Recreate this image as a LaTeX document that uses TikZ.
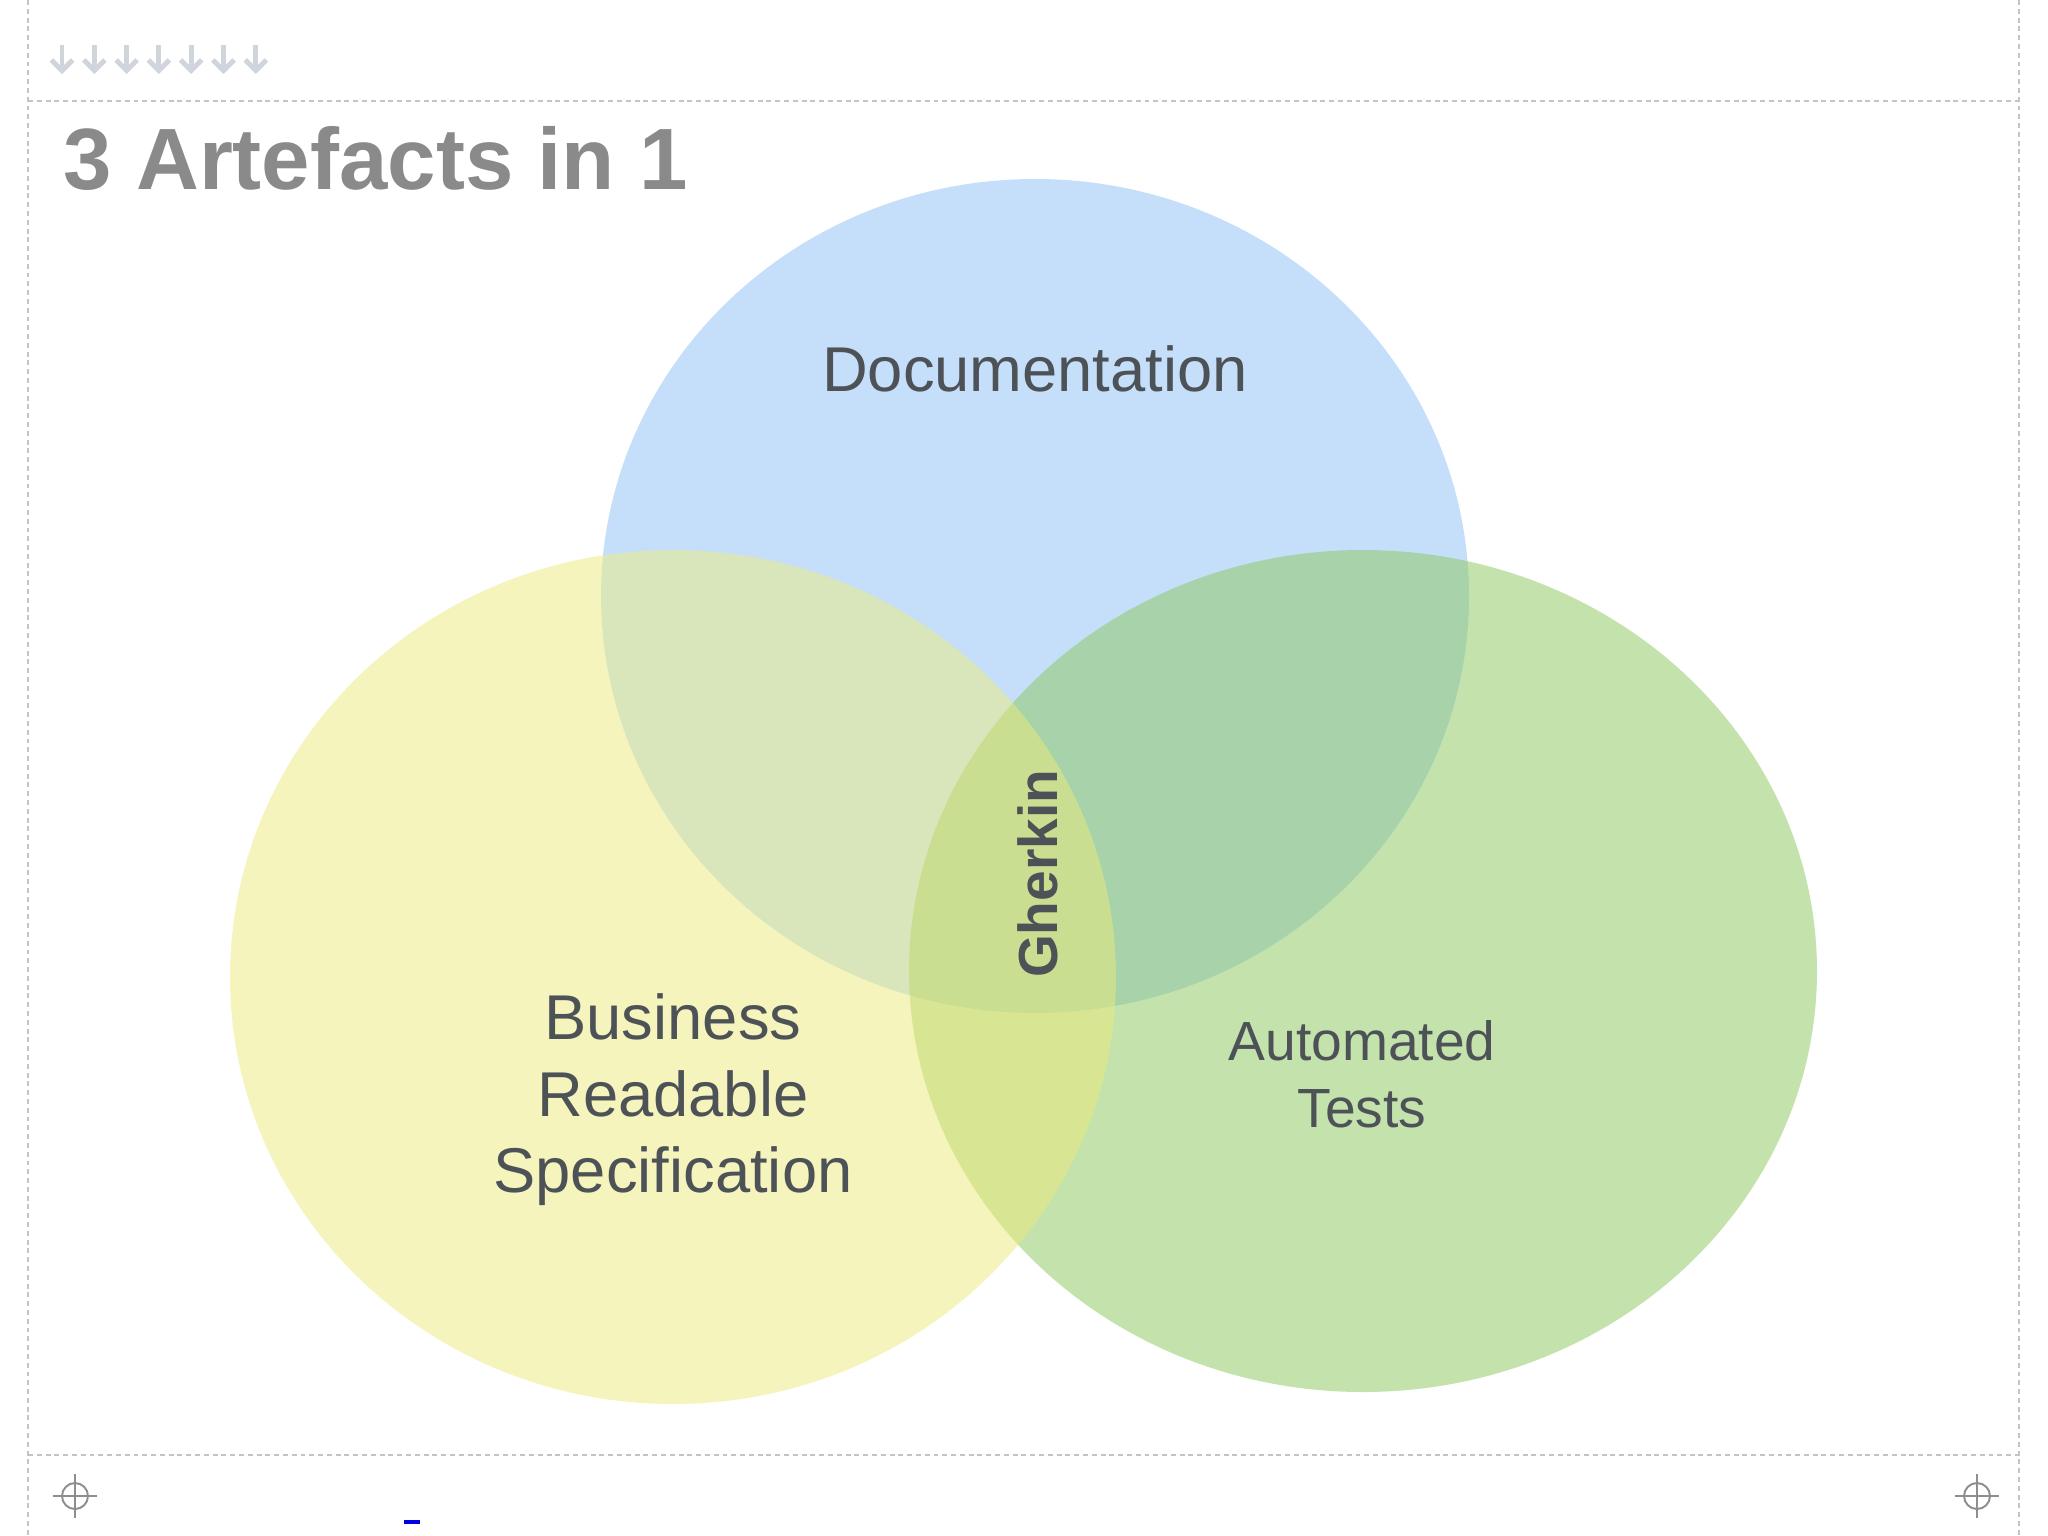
\documentclass[tikz,border=0pt]{standalone}
\usepackage{fontspec}
\setmainfont{Liberation Sans}
\usetikzlibrary{arrows.meta}
\definecolor{docblue}{HTML}{8DC1F7}
\definecolor{specyellow}{HTML}{EDEB7B}
\definecolor{testgreen}{HTML}{8BC75B}
\definecolor{inkgray}{HTML}{4D5257}
\definecolor{titlegray}{HTML}{8A8A8A}
\definecolor{guidegray}{HTML}{C4C4C4}
\definecolor{markgray}{HTML}{D0D5DB}
\definecolor{crossgray}{HTML}{8E8E8E}

\begin{document}
\begin{tikzpicture}[
  x=0.01cm, y=-0.01cm,
  guide/.style={guidegray, line width=0.4pt, dash pattern=on 1.4pt off 1.1pt},
  blob/.style={fill opacity=0.5},
  setname/.style={inkgray, inner sep=0pt, font=\fontsize{18}{21.8}\selectfont, align=center},
  downmark/.style={markgray, line width=1.4pt, -{Straight Barb[length=3pt, width=6pt]}},
  crosshair/.style={crossgray, line width=0.55pt}
]
\useasboundingbox[fill=white] (0,0) rectangle (2048,1536);

% page guides
\draw[guide] (28,0) -- (28,1536);
\draw[guide] (2019,0) -- (2019,1536);
\draw[guide] (28,101) -- (2019,101);
\draw[guide] (28,1455) -- (2019,1455);

% row of little arrows
\foreach \i in {0,...,6}
  \draw[downmark] (62+32.3*\i,45) -- (62+32.3*\i,74);

% the three sets
\fill[blob, docblue]    (1035,596) ellipse [x radius=434, y radius=417];
\fill[blob, testgreen]  (1363,971) ellipse [x radius=454, y radius=421];
\fill[blob, specyellow] (673,977)  ellipse [x radius=443, y radius=427];

\node[anchor=base west, inner sep=0pt, titlegray, font=\fontsize{24.75}{30}\selectfont\bfseries] (title) at (63,189) {3 Artefacts in 1};
\node[setname, anchor=base] (doc) at (1035,391) {Documentation};
\node[setname, anchor=north] (spec) at (673,993) {Business\\Readable\\Specification};
\node[setname, anchor=north, font=\fontsize{15.7}{19.1}\selectfont] (tests) at (1362,1020) {Automated\\Tests};
\node[inkgray, inner sep=0pt, rotate=90, anchor=base, font=\fontsize{15.65}{19}\selectfont\bfseries] (gherkin) at (1057,874) {Gherkin};

% corner marks
\coordinate (markL) at (75,1496);
\coordinate (markR) at (1977,1496);
\foreach \m in {markL, markR} {
  \draw[crosshair] (\m) circle [radius=13];
  \draw[crosshair] ([xshift=-0.22cm]\m) -- ([xshift=0.22cm]\m);
  \draw[crosshair] ([yshift=-0.22cm]\m) -- ([yshift=0.22cm]\m);
}
\fill[blue!90!black] (404,1520) rectangle (420,1524);
\end{tikzpicture}
\end{document}
